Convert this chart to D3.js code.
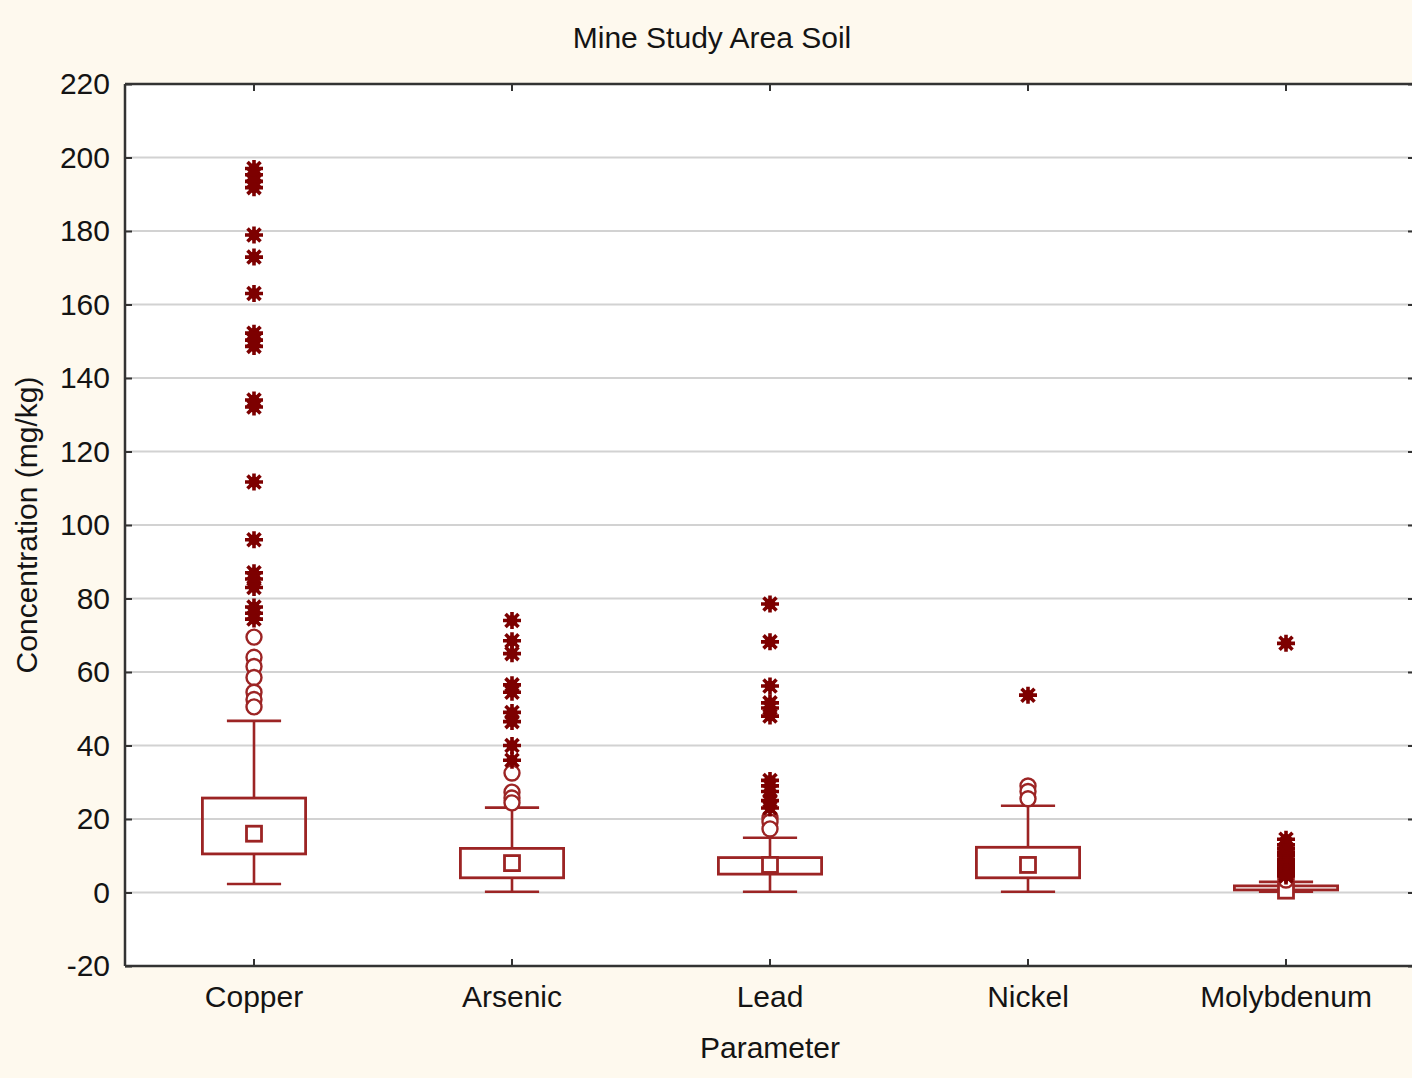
<!DOCTYPE html>
<html>
<head>
<meta charset="utf-8">
<script src="https://cdn.jsdelivr.net/npm/d3@7"></script>
<style>
  html, body { margin: 0; padding: 0; background: #fef9ee; }
  svg { display: block; }
  text { font-family: "Liberation Sans", Arial, sans-serif; fill: #141414; }
</style>
</head>
<body>
<svg id="chart" width="1412" height="1078"></svg>
<script>
// Soil concentrations (mg/kg) per parameter
const categories = ["Copper", "Arsenic", "Lead", "Nickel", "Molybdenum"];
const medians    = [16, 8, 7.5, 7.5, 0.5];
const q1         = [10.5, 4.0, 5.0, 4.0, 0.7];
const q3         = [25.7, 12.0, 9.5, 12.3, 1.8];
const whiskerLow  = [2.3, 0.2, 0.2, 0.2, 0.2];
const whiskerHigh = [46.7, 23.1, 14.9, 23.6, 2.9];

// Outliers (open circles) and extremes (asterisks)
const outliers = [
  [69.5, 64, 61.5, 58.5, 54.5, 52.5, 50.5],
  [32.5, 27.3, 25.7, 24.4],
  [20.3, 19.2, 17.3],
  [29, 27.5, 25.5],
  [3.8, 3.4]
];
const extremes = [
  [197, 195.3, 193.5, 191.8, 178.9, 172.9, 163, 152.2, 150.3, 148.6, 134, 132.1, 111.7, 96, 87, 85.3, 83, 77.7, 76, 74.4],
  [74, 68.5, 65, 56.5, 54.5, 49, 46.5, 40, 36],
  [78.5, 68.2, 56.2, 51.6, 50.2, 48, 30.5, 29, 27.5, 25, 23],
  [53.7],
  [67.8, 14.5, 13, 12, 11, 10, 9, 8.5, 8, 7.5, 7, 6.5, 6, 5.5, 5, 4.5]
];
const yTicks = [-20, 0, 20, 40, 60, 80, 100, 120, 140, 160, 180, 200, 220];

const margin = { left: 125, top: 84, right: 1415, bottom: 966 };
const boxColor = "#9c2424";
const markColor = "#7d0000";
const fontSize = 30;

const svg = d3.select("#chart");

const x = d3.scaleBand().domain(categories).range([margin.left, margin.right]).padding(0);
const y = d3.scaleLinear().domain([-20, 220]).range([margin.bottom, margin.top]);
const cx = c => x(c) + x.bandwidth() / 2;

// plot background
svg.append("rect")
  .attr("x", margin.left).attr("y", margin.top)
  .attr("width", margin.right - margin.left).attr("height", margin.bottom - margin.top)
  .attr("fill", "#ffffff");

// horizontal gridlines
svg.append("g").selectAll("line")
  .data(yTicks.filter(t => t > -20 && t < 220))
  .join("line")
  .attr("x1", margin.left).attr("x2", margin.right)
  .attr("y1", d => y(d)).attr("y2", d => y(d))
  .attr("stroke", "#d2d2d2").attr("stroke-width", 2);

// axes (ticks point inward)
const yAxis = d3.axisLeft(y).tickValues(yTicks).tickSizeInner(-7).tickSizeOuter(0).tickPadding(15)
  .tickFormat(d => String(d));
const gy = svg.append("g").attr("transform", `translate(${margin.left},0)`).call(yAxis);
gy.select(".domain").remove();
gy.selectAll(".tick line").attr("stroke", "#333").attr("stroke-width", 2);
gy.selectAll(".tick text").attr("font-size", fontSize).attr("fill", "#141414")
  .attr("font-family", "Liberation Sans, Arial, sans-serif");

const yAxisR = d3.axisRight(y).tickValues(yTicks).tickSizeInner(-7).tickSizeOuter(0).tickFormat("");
const gyr = svg.append("g").attr("transform", `translate(${margin.right},0)`).call(yAxisR);
gyr.select(".domain").remove();
gyr.selectAll(".tick line").attr("stroke", "#333").attr("stroke-width", 2);

const xAxis = d3.axisBottom(x).tickSizeInner(-7).tickSizeOuter(0).tickPadding(20);
const gx = svg.append("g").attr("transform", `translate(0,${margin.bottom})`).call(xAxis);
gx.select(".domain").remove();
gx.selectAll(".tick line").attr("stroke", "#333").attr("stroke-width", 2);
gx.selectAll(".tick text").attr("font-size", fontSize).attr("fill", "#141414")
  .attr("font-family", "Liberation Sans, Arial, sans-serif");

const xAxisT = d3.axisTop(x).tickSizeInner(-7).tickSizeOuter(0).tickFormat("");
const gxt = svg.append("g").attr("transform", `translate(0,${margin.top})`).call(xAxisT);
gxt.select(".domain").remove();
gxt.selectAll(".tick line").attr("stroke", "#333").attr("stroke-width", 2);

// frame lines: left, top, bottom
const frame = svg.append("g").attr("stroke", "#333").attr("stroke-width", 2.5);
frame.append("line").attr("x1", margin.left).attr("x2", margin.left).attr("y1", margin.top).attr("y2", margin.bottom);
frame.append("line").attr("x1", margin.left).attr("x2", margin.right).attr("y1", margin.top).attr("y2", margin.top);
frame.append("line").attr("x1", margin.left).attr("x2", margin.right).attr("y1", margin.bottom).attr("y2", margin.bottom);

// box plots
const boxW = x.bandwidth() * 0.4;
const capW = x.bandwidth() * 0.21;
const boxes = svg.append("g").selectAll("g")
  .data(categories.map((c, i) => ({ c, i })))
  .join("g");

boxes.each(function ({ c, i }) {
  const g = d3.select(this);
  const mx = cx(c);
  g.append("line").attr("x1", mx).attr("x2", mx).attr("y1", y(q3[i])).attr("y2", y(whiskerHigh[i]))
    .attr("stroke", boxColor).attr("stroke-width", 2.6);
  g.append("line").attr("x1", mx).attr("x2", mx).attr("y1", y(q1[i])).attr("y2", y(whiskerLow[i]))
    .attr("stroke", boxColor).attr("stroke-width", 2.6);
  [whiskerHigh[i], whiskerLow[i]].forEach(v => {
    g.append("line").attr("x1", mx - capW / 2).attr("x2", mx + capW / 2)
      .attr("y1", y(v)).attr("y2", y(v)).attr("stroke", boxColor).attr("stroke-width", 2.6);
  });
  g.append("rect")
    .attr("x", mx - boxW / 2).attr("width", boxW)
    .attr("y", y(q3[i])).attr("height", Math.max(y(q1[i]) - y(q3[i]), 1))
    .attr("fill", "none").attr("stroke", boxColor).attr("stroke-width", 2.8);
  g.append("rect")
    .attr("x", mx - 7.5).attr("y", y(medians[i]) - 7.5).attr("width", 15).attr("height", 15)
    .attr("fill", "#ffffff").attr("stroke", boxColor).attr("stroke-width", 2.8);
});

// outlier circles
const pointsO = categories.flatMap((c, i) => outliers[i].map(v => ({ c, v })));
svg.append("g").selectAll("circle")
  .data(pointsO).join("circle")
  .attr("cx", d => cx(d.c)).attr("cy", d => y(d.v)).attr("r", 7.5)
  .attr("fill", "#ffffff").attr("stroke", boxColor).attr("stroke-width", 2.4);

// extreme asterisks
const pointsE = categories.flatMap((c, i) => extremes[i].map(v => ({ c, v })));
const star = "M-9,0H9M0,-8.5V8.5M-6.5,-6.5L6.5,6.5M-6.5,6.5L6.5,-6.5";
const stars = svg.append("g").selectAll("g")
  .data(pointsE).join("g")
  .attr("transform", d => `translate(${cx(d.c)},${y(d.v)})`);
stars.append("path").attr("d", star).attr("stroke", markColor).attr("stroke-width", 3.6).attr("fill", "none");
stars.append("circle").attr("r", 5.5).attr("fill", markColor);

// titles
svg.append("text").attr("x", 712).attr("y", 48).attr("text-anchor", "middle")
  .attr("font-size", fontSize).text("Mine Study Area Soil");
svg.append("text").attr("x", (margin.left + margin.right) / 2).attr("y", 1058).attr("text-anchor", "middle")
  .attr("font-size", fontSize).text("Parameter");
svg.append("text")
  .attr("transform", `translate(37,${(margin.top + margin.bottom) / 2}) rotate(-90)`)
  .attr("text-anchor", "middle").attr("font-size", fontSize).text("Concentration (mg/kg)");
</script>
</body>
</html>
